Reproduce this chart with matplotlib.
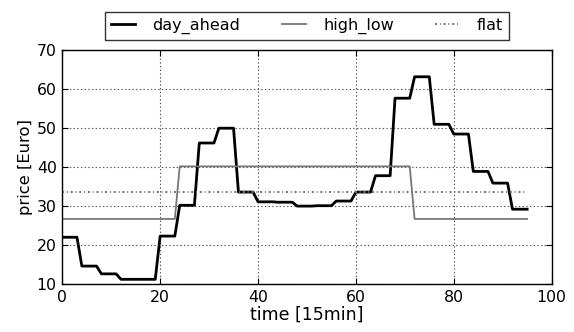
import numpy as np
import matplotlib
matplotlib.use("Agg")
import matplotlib.pyplot as plt

# hourly day-ahead prices, each hour repeated over four 15-min slots
hourly_day_ahead = [22.0, 14.6, 12.6, 11.2, 11.2, 22.3, 30.2, 46.2,
                    50.0, 33.6, 31.1, 31.0, 30.0, 30.1, 31.3, 33.6,
                    37.8, 57.7, 63.2, 51.0, 48.5, 38.9, 35.9, 29.2]
high_low_levels = [26.7, 40.2, 26.7]   # low / high / low
high_low_hours = [6, 12, 6]
flat_price = 33.6

t = np.arange(96)
day_ahead = np.repeat(hourly_day_ahead, 4)
high_low = np.repeat(high_low_levels, np.array(high_low_hours) * 4)
flat = np.full(96, flat_price)

plt.rcParams["font.family"] = "DejaVu Sans"
plt.rcParams["lines.scale_dashes"] = False
fig = plt.figure(figsize=(5.74, 3.32), dpi=100)
ax = fig.add_axes([0.1085, 0.1446, 0.8525, 0.7039])

ax.plot(t, day_ahead, color="black", lw=2.0, label="day_ahead")
ax.plot(t, high_low, color="#777777", lw=1.3, label="high_low")
ax.plot(t, flat, color="#777777", lw=1.4, ls=(0, (1.5, 2.0, 0.7, 2.0)), label="flat")

ax.set_xlim(0, 100); ax.set_ylim(10, 70)
ax.set_xticks(range(0, 101, 20)); ax.set_yticks(range(10, 71, 10))
ax.tick_params(direction="in", top=True, right=True, labelsize=11.3, length=4, pad=4)
ax.grid(True, ls=":", color="#555555", lw=0.8)
for s in ax.spines.values():
    s.set_linewidth(1.0)
ax.set_xlabel("time [15min]", fontsize=12.5, labelpad=1)
ax.set_ylabel("price [Euro]", fontsize=11.8, labelpad=3)

leg = ax.legend(loc="lower center", bbox_to_anchor=(0.5, 1.045), ncol=3, fontsize=11.5,
                frameon=True, fancybox=False, borderaxespad=0, columnspacing=2.6,
                handlelength=1.55, handletextpad=1.05, borderpad=0.35)
leg.get_frame().set_edgecolor("black"); leg.get_frame().set_linewidth(1.0)

fig.savefig("out.png", dpi=100)
